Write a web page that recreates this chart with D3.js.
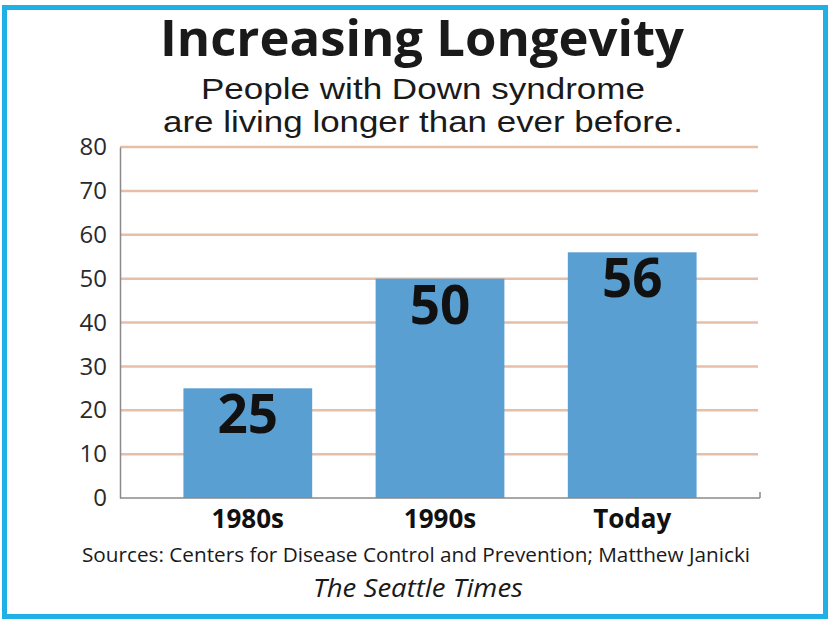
<!DOCTYPE html>
<html>
<head>
<meta charset="utf-8">
<script src="https://cdn.jsdelivr.net/npm/d3@7"></script>
<style>
  body { margin: 0; background: #fff; }
  svg { display: block; }
</style>
</head>
<body>
<svg id="chart" width="830" height="619"></svg>
<script>
var width = 830, height = 619;

// data
var categories = ["1980s", "1990s", "Today"];
var ages = [25, 50, 56];
var yTicks = [0, 10, 20, 30, 40, 50, 60, 70, 80];

var titleText = "Increasing Longevity";
var subtitleLines = ["People with Down syndrome", "are living longer than ever before."];
var sourceText = "Sources: Centers for Disease Control and Prevention; Matthew Janicki";
var creditText = "The Seattle Times";

var BAR = "#5a9fd2";
var GRID = "#e6bfa6";
var AXIS = "#8a8a8a";
var FONT = "'Open Sans', sans-serif";
// tighter line box, so the stacked subtitle lines don't collide
var SUBFONT = "'Liberation Sans', Arial, sans-serif";

var svg = d3.select("#chart");

// cyan frame round the whole graphic
svg.append("rect")
    .attr("x", 4.5).attr("y", 7.5)
    .attr("width", 821).attr("height", 609)
    .attr("fill", "#fff")
    .attr("stroke", "#1fb1e6")
    .attr("stroke-width", 5);

var x = d3.scaleBand()
    .domain(categories)
    .range([120, 760])
    .paddingInner(0.33)
    .paddingOuter(0.33);

var y = d3.scaleLinear()
    .domain([0, 80])
    .range([498, 147]);

// horizontal rules
svg.append("g")
    .selectAll("line")
    .data(yTicks.filter(function (d) { return d > 0; }))
    .enter().append("line")
    .attr("x1", 120).attr("x2", 758)
    .attr("y1", function (d) { return y(d); })
    .attr("y2", function (d) { return y(d); })
    .attr("stroke", GRID)
    .attr("stroke-width", 2.5);

// y axis, drawn with d3 but restyled
var yAxis = svg.append("g")
    .attr("transform", "translate(120,0)")
    .call(d3.axisLeft(y).tickValues(yTicks).tickSize(0).tickPadding(13));
yAxis.select(".domain").attr("stroke", AXIS).attr("stroke-width", 1.5);
yAxis.selectAll("text")
    .attr("font-family", FONT)
    .attr("font-size", 24)
    .attr("fill", "#2a2a2a");

// bars
svg.append("g")
    .selectAll("rect")
    .data(ages)
    .enter().append("rect")
    .attr("x", function (d, i) { return x(categories[i]); })
    .attr("y", function (d) { return y(d); })
    .attr("width", x.bandwidth())
    .attr("height", function (d) { return y(0) - y(d); })
    .attr("fill", BAR);

// baseline with small end tick
svg.append("line")
    .attr("x1", 120).attr("x2", 760)
    .attr("y1", y(0)).attr("y2", y(0))
    .attr("stroke", AXIS).attr("stroke-width", 1.5);
svg.append("line")
    .attr("x1", 760).attr("x2", 760)
    .attr("y1", y(0) - 6).attr("y2", y(0))
    .attr("stroke", AXIS).attr("stroke-width", 1.5);

// value labels inside the bars
svg.append("g")
    .selectAll("text")
    .data(ages)
    .enter().append("text")
    .attr("x", function (d, i) { return x(categories[i]) + x.bandwidth() / 2; })
    .attr("y", function (d) { return y(d) + 45; })
    .attr("text-anchor", "middle")
    .attr("font-family", FONT)
    .attr("font-weight", 700)
    .attr("font-size", 53)
    .attr("fill", "#111")
    .text(function (d) { return d; });

// category labels
svg.append("g")
    .selectAll("text")
    .data(categories)
    .enter().append("text")
    .attr("x", function (d) { return x(d) + x.bandwidth() / 2; })
    .attr("y", 528)
    .attr("text-anchor", "middle")
    .attr("font-family", FONT)
    .attr("font-weight", 700)
    .attr("font-size", 26)
    .attr("fill", "#111")
    .text(function (d) { return d; });

// headings and footer, squeezed to the width of the original condensed face
function label(txt, cx, cy, size, len, opts) {
    opts = opts || {};
    return svg.append("text")
        .attr("x", cx).attr("y", cy)
        .attr("text-anchor", "middle")
        .attr("font-family", opts.family || FONT)
        .attr("font-size", size)
        .attr("font-weight", opts.weight || 400)
        .attr("font-style", opts.style || "normal")
        .attr("textLength", len)
        .attr("lengthAdjust", "spacingAndGlyphs")
        .attr("fill", "#1a1a1a")
        .text(txt);
}

label(titleText, 422, 56, 51, 524, { weight: 700 });
label(subtitleLines[0], 423, 99, 29.5, 444, { family: SUBFONT });
label(subtitleLines[1], 423, 132, 29.5, 520, { family: SUBFONT });
label(sourceText, 416, 562, 20, 668);
label(creditText, 418, 597, 26, 210, { style: "italic" });
</script>
</body>
</html>
